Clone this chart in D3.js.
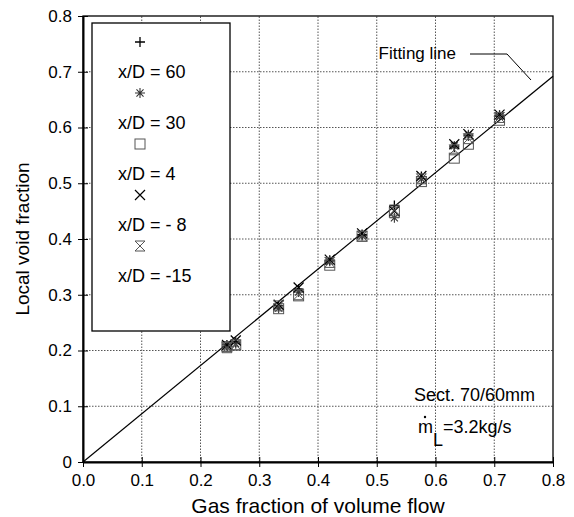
<!doctype html>
<html lang="en">
<head>
<meta charset="utf-8" />
<title>Local void fraction vs gas fraction</title>
<script src="https://d3js.org/d3.v7.min.js"></script>
<style>
  body { margin: 0; background: #fff; }
  svg { font-family: "Liberation Sans", Arial, Helvetica, sans-serif; }
  .grid line { stroke: #555; stroke-dasharray: 1.5 1.5; stroke-width: 1; }
</style>
</head>
<body>
<div id="chart"></div>
<script>
// gas fraction of volume flow (x) for each measuring point
var gasFraction = [0.245, 0.26, 0.333, 0.367, 0.42, 0.475, 0.53, 0.576, 0.632, 0.656, 0.709];

// local void fraction per axial position x/D
var xd60 = [0.21, 0.215, 0.28, 0.31, 0.362, 0.408, 0.46, 0.512, 0.565, 0.585, 0.622];
var xd30 = [0.207, 0.212, 0.276, 0.305, 0.36, 0.406, 0.438, 0.508, 0.567, 0.587, 0.62];
var xd4 = [0.207, 0.21, 0.275, 0.298, 0.353, 0.405, 0.448, 0.503, 0.545, 0.57, 0.613];
var xdm8 = [0.21, 0.218, 0.282, 0.313, 0.363, 0.41, 0.45, 0.513, 0.57, 0.588, 0.623];
var xdm15 = [0.205, 0.21, 0.28, 0.3, 0.358, 0.405, 0.452, 0.508, 0.56, 0.58, 0.618];

var seriesNames = ["x/D = 60", "x/D = 30", "x/D = 4", "x/D = - 8", "x/D = -15"];
var seriesValues = [xd60, xd30, xd4, xdm8, xdm15];
var markers = ["plus", "star", "square", "cross", "hourglass"];

var xTicks = [0, 0.1, 0.2, 0.3, 0.4, 0.5, 0.6, 0.7, 0.8];
var yTicks = [0, 0.1, 0.2, 0.3, 0.4, 0.5, 0.6, 0.7, 0.8];
var fitSlope = 0.865;

var width = 574, height = 517,
    margin = { top: 16, right: 21, bottom: 55, left: 83 };

var svg = d3.select("#chart").append("svg")
    .attr("width", width).attr("height", height);

var x = d3.scaleLinear().domain([0, 0.8]).range([margin.left, width - margin.right]);
var y = d3.scaleLinear().domain([0, 0.8]).range([height - margin.bottom, margin.top]);

// dotted grid
var grid = svg.append("g").attr("class", "grid");
grid.selectAll(".gx").data(xTicks.slice(1, -1)).enter().append("line")
    .attr("x1", d => x(d)).attr("x2", d => x(d))
    .attr("y1", y(0)).attr("y2", y(0.8));
grid.selectAll(".gy").data(yTicks.slice(1, -1)).enter().append("line")
    .attr("y1", d => y(d)).attr("y2", d => y(d))
    .attr("x1", x(0)).attr("x2", x(0.8));

// frame
svg.append("rect")
    .attr("x", x(0)).attr("y", y(0.8))
    .attr("width", x(0.8) - x(0)).attr("height", y(0) - y(0.8))
    .attr("fill", "none").attr("stroke", "#000").attr("stroke-width", 1.3);

// axes
var xAxis = d3.axisBottom(x).tickValues(xTicks).tickFormat(d3.format(".1f")).tickSizeInner(5).tickSizeOuter(0);
var yAxis = d3.axisLeft(y).tickValues(yTicks).tickFormat(d => d === 0 ? "0" : d3.format(".1f")(d))
    .tickSizeInner(5).tickSizeOuter(0).tickPadding(6);

var gx = svg.append("g").attr("transform", `translate(0,${y(0)})`).call(xAxis);
var gy = svg.append("g").attr("transform", `translate(${x(0)},0)`).call(yAxis);
[gx, gy].forEach(g => {
    g.select(".domain").attr("stroke-width", 2);
    g.selectAll("text").attr("font-size", 17).attr("fill", "#000")
        .attr("font-family", "Liberation Sans, Arial, sans-serif");
});
gx.selectAll(".tick line").attr("y1", -5);
gy.selectAll(".tick line").attr("x1", 5);
gx.selectAll("text").attr("dy", "0.95em");

// fitting line
svg.append("line")
    .attr("x1", x(0)).attr("y1", y(0))
    .attr("x2", x(0.8)).attr("y2", y(0.8 * fitSlope))
    .attr("stroke", "#000").attr("stroke-width", 1.2);

// marker shapes
function drawMarker(g, type, cx, cy, s) {
    var h = s / 2;
    if (type === "plus") {
        g.append("path").attr("d", `M${cx - h},${cy}H${cx + h}M${cx},${cy - h}V${cy + h}`)
            .attr("stroke", "#000").attr("stroke-width", 1.3).attr("fill", "none");
    } else if (type === "star") {
        var p = "";
        for (var i = 0; i < 4; i++) {
            var a = i * Math.PI / 4;
            p += `M${cx - h * Math.cos(a)},${cy - h * Math.sin(a)}L${cx + h * Math.cos(a)},${cy + h * Math.sin(a)}`;
        }
        g.append("path").attr("d", p).attr("stroke", "#333").attr("stroke-width", 1.1).attr("fill", "none");
    } else if (type === "square") {
        g.append("rect").attr("x", cx - h).attr("y", cy - h).attr("width", s).attr("height", s)
            .attr("stroke", "#555").attr("stroke-width", 1).attr("fill", "none");
    } else if (type === "cross") {
        g.append("path").attr("d", `M${cx - h},${cy - h}L${cx + h},${cy + h}M${cx - h},${cy + h}L${cx + h},${cy - h}`)
            .attr("stroke", "#000").attr("stroke-width", 1.2).attr("fill", "none");
    } else if (type === "hourglass") {
        g.append("path").attr("d", `M${cx - h},${cy - h}H${cx + h}L${cx - h},${cy + h}H${cx + h}Z`)
            .attr("stroke", "#555").attr("stroke-width", 1).attr("fill", "none");
    }
}

// data points
var pts = svg.append("g");
seriesValues.forEach((vals, k) => {
    vals.forEach((v, i) => {
        drawMarker(pts, markers[k], x(gasFraction[i]), y(v), 10);
    });
});

// legend
var legend = svg.append("g");
legend.append("rect")
    .attr("x", 92).attr("y", 23).attr("width", 138).attr("height", 308)
    .attr("fill", "#fff").attr("stroke", "#000").attr("stroke-width", 1.3);
seriesNames.forEach((name, k) => {
    var cy = 42 + k * 51;
    drawMarker(legend, markers[k], 140, cy, 10);
    legend.append("text").attr("x", 118).attr("y", cy + 36)
        .attr("font-size", 18).text(name);
});

// fitting line label
svg.append("text").attr("x", 456).attr("y", 59).attr("text-anchor", "end")
    .attr("font-size", 17).text("Fitting line");
svg.append("path").attr("d", "M470,54H507L531,80")
    .attr("fill", "none").attr("stroke", "#000").attr("stroke-width", 1);

// section text
svg.append("text").attr("x", 414).attr("y", 401).attr("font-size", 18).text("Sect. 70/60mm");
var ml = svg.append("text").attr("x", 418).attr("y", 433).attr("font-size", 18);
ml.append("tspan").text("m");
ml.append("tspan").attr("dy", 13).text("L");
ml.append("tspan").attr("dy", -13).text("=3.2kg/s");
svg.append("circle").attr("cx", 425).attr("cy", 417).attr("r", 1.2).attr("fill", "#000");

// axis titles
svg.append("text").attr("x", (x(0) + x(0.8)) / 2).attr("y", 513)
    .attr("text-anchor", "middle").attr("font-size", 21).text("Gas fraction of volume flow");
svg.append("text").attr("transform", `translate(29,${(y(0) + y(0.8)) / 2}) rotate(-90)`)
    .attr("text-anchor", "middle").attr("font-size", 19).text("Local void fraction");
</script>
</body>
</html>
